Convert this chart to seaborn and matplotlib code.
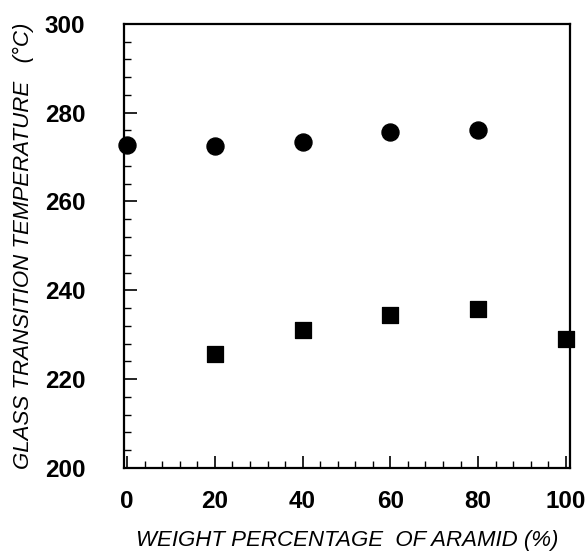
import matplotlib
matplotlib.use("Agg")
import matplotlib.pyplot as plt
import seaborn as sns
import pandas as pd
from matplotlib.ticker import MultipleLocator

# Data
aramid_circle = [0, 20, 40, 60, 80]
tg_circle = [272.8, 272.5, 273.3, 275.6, 276.2]

aramid_square = [20, 40, 60, 80, 100]
tg_square = [225.7, 231.1, 234.4, 235.8, 229.0]

x_ticks = [0, 20, 40, 60, 80, 100]
y_ticks = [200, 220, 240, 260, 280, 300]

sns.set_theme(style="ticks")
plt.rcParams['font.family'] = ['Liberation Sans', 'DejaVu Sans']
plt.rcParams['text.color'] = 'black'
plt.rcParams['axes.labelcolor'] = 'black'
plt.rcParams['xtick.color'] = 'black'
plt.rcParams['ytick.color'] = 'black'

df_c = pd.DataFrame({"x": aramid_circle, "y": tg_circle})
df_s = pd.DataFrame({"x": aramid_square, "y": tg_square})

fig = plt.figure(figsize=(5.88, 5.55), dpi=100)
ax = fig.add_axes([0.211, 0.157, 0.758, 0.800])

sns.scatterplot(data=df_c, x="x", y="y", marker="o", s=150, color="black",
                edgecolor="black", ax=ax, clip_on=False, zorder=3)
sns.scatterplot(data=df_s, x="x", y="y", marker="s", s=130, color="black",
                edgecolor="black", ax=ax, clip_on=False, zorder=3)

ax.set_xlim(-0.7, 100.9)
ax.set_ylim(200, 300)
ax.set_xticks(x_ticks)
ax.set_yticks(y_ticks)
ax.xaxis.set_minor_locator(MultipleLocator(4))
ax.yaxis.set_minor_locator(MultipleLocator(4))
ax.tick_params(which="major", direction="in", length=9, width=1.2,
               labelsize=17.5, pad=16, top=False, right=False)
ax.tick_params(axis="y", which="major", pad=28)
ax.tick_params(which="minor", direction="in", length=5, width=1.0,
               top=False, right=False)
for lab in ax.get_xticklabels() + ax.get_yticklabels():
    lab.set_fontweight("bold")

for sp in ax.spines.values():
    sp.set_linewidth(1.6)
    sp.set_color("black")

ax.set_xlabel("WEIGHT PERCENTAGE  OF ARAMID (%)", fontsize=16,
              fontstyle="italic", labelpad=12)
ax.set_ylabel("GLASS TRANSITION TEMPERATURE   (°C)", fontsize=16,
              fontstyle="italic", labelpad=8)

fig.savefig("out.png", dpi=100)
